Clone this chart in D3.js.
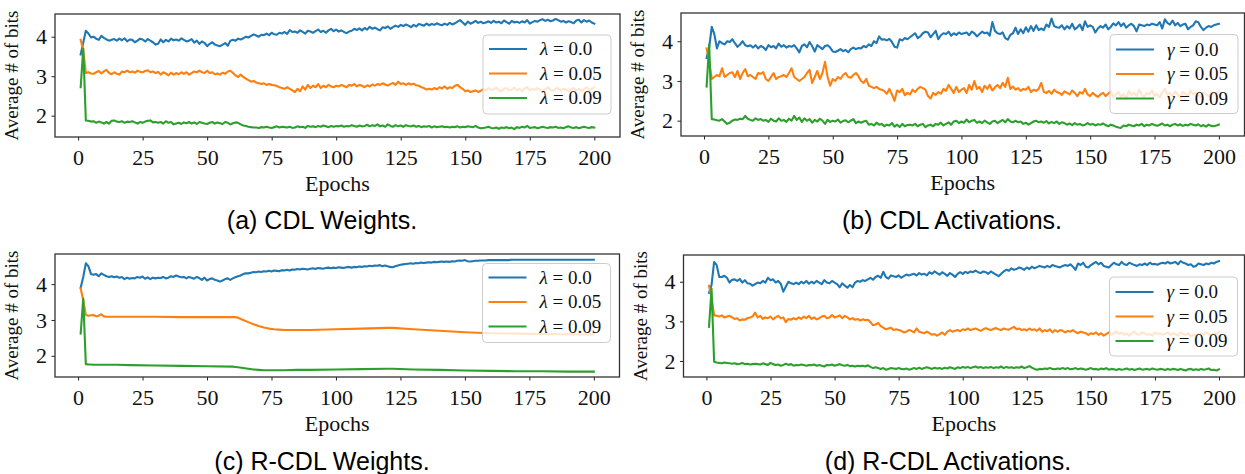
<!DOCTYPE html>
<html>
<head>
<meta charset="utf-8">
<script src="https://cdn.jsdelivr.net/npm/d3@7"></script>
<style>
  body { margin: 0; background: #fff; }
</style>
</head>
<body>
<div id="chart"></div>
<script>
// epochs 1..200 (x axis for every dense series)
const epochs = d3.range(1, 201);

// (a) CDL Weights
const cdlW_l00 = [
  3.55,3.85,4.15,4.08,3.98,4.0,3.95,3.92,4.02,3.97,
  3.93,3.9,3.92,3.94,3.9,3.95,3.91,3.96,3.88,3.93,
  3.92,3.86,3.9,3.95,3.93,3.88,3.94,3.9,3.86,3.8,
  3.82,3.93,3.86,3.92,3.88,3.95,3.91,3.93,3.9,3.96,
  3.92,3.88,3.9,3.94,3.85,3.9,3.82,3.88,3.84,3.76,
  3.82,3.86,3.8,3.78,3.76,3.8,3.84,3.77,3.9,3.92,
  3.9,3.95,3.93,3.96,4.0,3.98,4.02,4.06,4.03,4.0,
  4.05,4.04,4.08,4.04,4.1,4.06,4.05,4.1,4.08,4.12,
  4.07,4.17,4.12,4.13,4.1,4.16,4.12,4.08,4.15,4.13,
  4.1,4.14,4.18,4.12,4.15,4.1,4.16,4.2,4.14,4.18,
  4.13,4.16,4.12,4.09,4.13,4.15,4.2,4.17,4.21,4.16,
  4.22,4.18,4.25,4.2,4.23,4.19,4.16,4.24,4.22,4.26,
  4.2,4.24,4.28,4.25,4.3,4.27,4.31,4.28,4.24,4.3,
  4.26,4.32,4.3,4.28,4.33,4.29,4.32,4.3,4.34,4.31,
  4.29,4.33,4.3,4.35,4.31,4.34,4.38,4.42,4.36,4.3,
  4.38,4.33,4.36,4.4,4.35,4.38,4.34,4.36,4.39,4.35,
  4.4,4.36,4.38,4.34,4.41,4.37,4.33,4.4,4.36,4.38,
  4.35,4.39,4.36,4.42,4.33,4.37,4.4,4.38,4.42,4.44,
  4.4,4.43,4.39,4.41,4.45,4.42,4.38,4.4,4.36,4.39,
  4.37,4.34,4.41,4.43,4.36,4.42,4.38,4.41,4.36,4.33
];
const cdlW_l005 = [
  3.92,3.65,3.08,3.1,3.07,3.06,3.1,3.13,3.07,3.12,
  3.16,3.08,3.05,3.1,3.06,3.04,3.12,3.1,3.14,3.1,
  3.12,3.09,3.14,3.11,3.1,3.13,3.15,3.1,3.12,3.08,
  3.11,3.04,3.1,3.07,3.02,3.09,3.04,3.08,3.05,3.1,
  3.06,3.1,3.04,3.08,3.12,3.1,3.14,3.1,3.08,3.14,
  3.08,3.1,3.05,3.07,3.04,3.09,3.06,3.12,3.14,3.08,
  3.02,2.98,3.04,2.98,2.94,2.9,2.86,2.88,2.84,2.82,
  2.8,2.82,2.78,2.8,2.78,2.77,2.75,2.72,2.7,2.68,
  2.72,2.68,2.64,2.6,2.68,2.62,2.74,2.66,2.78,2.7,
  2.76,2.72,2.8,2.7,2.76,2.72,2.78,2.74,2.72,2.76,
  2.74,2.78,2.75,2.72,2.78,2.76,2.8,2.74,2.78,2.76,
  2.72,2.77,2.74,2.79,2.76,2.8,2.78,2.82,2.79,2.76,
  2.8,2.83,2.78,2.86,2.8,2.82,2.78,2.82,2.79,2.81,
  2.77,2.76,2.72,2.7,2.66,2.68,2.66,2.7,2.67,2.72,
  2.69,2.74,2.68,2.72,2.7,2.76,2.78,2.72,2.68,2.62,
  2.64,2.6,2.62,2.64,2.6,2.63,2.67,2.64,2.7,2.65,
  2.67,2.71,2.65,2.62,2.68,2.7,2.64,2.66,2.71,2.64,
  2.68,2.62,2.69,2.72,2.64,2.68,2.65,2.7,2.66,2.62,
  2.67,2.72,2.65,2.63,2.68,2.7,2.64,2.68,2.66,2.62,
  2.66,2.7,2.64,2.68,2.62,2.67,2.72,2.65,2.68,2.72
];
const cdlW_l009 = [
  2.72,3.7,1.88,1.87,1.85,1.86,1.82,1.85,1.83,1.8,
  1.84,1.8,1.87,1.88,1.85,1.84,1.86,1.82,1.85,1.84,
  1.86,1.83,1.8,1.84,1.82,1.85,1.87,1.88,1.83,1.84,
  1.82,1.84,1.8,1.86,1.82,1.84,1.78,1.8,1.82,1.79,
  1.83,1.81,1.84,1.8,1.83,1.79,1.84,1.82,1.8,1.79,
  1.82,1.84,1.8,1.83,1.81,1.79,1.84,1.82,1.78,1.81,
  1.83,1.82,1.78,1.75,1.74,1.72,1.71,1.7,1.7,1.69,
  1.71,1.7,1.72,1.7,1.69,1.71,1.73,1.7,1.72,1.71,
  1.7,1.72,1.69,1.7,1.73,1.71,1.72,1.69,1.74,1.72,
  1.73,1.71,1.74,1.72,1.75,1.73,1.71,1.74,1.72,1.74,
  1.73,1.75,1.72,1.74,1.73,1.76,1.74,1.72,1.75,1.73,
  1.74,1.77,1.73,1.76,1.74,1.78,1.73,1.75,1.72,1.78,
  1.74,1.72,1.76,1.73,1.75,1.72,1.76,1.74,1.73,1.75,
  1.72,1.74,1.71,1.73,1.72,1.74,1.7,1.73,1.71,1.72,
  1.73,1.71,1.72,1.7,1.72,1.71,1.73,1.7,1.72,1.71,
  1.73,1.72,1.71,1.74,1.7,1.68,1.69,1.7,1.72,1.69,
  1.68,1.7,1.67,1.7,1.69,1.71,1.68,1.7,1.66,1.71,
  1.69,1.72,1.7,1.74,1.69,1.7,1.71,1.68,1.7,1.72,
  1.7,1.69,1.71,1.7,1.72,1.69,1.7,1.68,1.71,1.73,
  1.7,1.69,1.71,1.68,1.7,1.72,1.7,1.69,1.71,1.7
];

// (b) CDL Activations
const cdlA_g00 = [
  3.58,3.85,4.36,4.18,3.82,4.0,3.95,3.92,4.0,3.98,
  4.05,3.95,3.86,3.92,4.0,3.9,3.87,3.9,3.84,3.9,
  3.82,3.88,3.85,3.78,3.9,3.85,3.88,3.82,3.94,3.86,
  3.9,3.84,3.88,3.86,3.9,3.82,3.72,3.88,3.92,3.85,
  3.98,3.88,3.74,3.9,3.85,3.8,3.88,3.9,3.84,3.74,
  3.73,3.76,3.8,3.75,3.78,3.72,3.8,3.84,3.8,3.83,
  3.82,3.88,3.85,3.92,3.88,4.0,3.95,4.12,4.04,4.05,
  4.02,4.06,3.98,3.86,3.84,4.05,4.02,4.08,4.05,4.1,
  4.15,4.2,4.08,4.12,4.2,4.24,4.22,4.1,4.18,4.26,
  4.05,4.15,4.2,4.18,4.24,4.14,4.2,4.16,4.22,4.18,
  4.2,4.22,4.15,4.24,4.2,4.12,4.18,4.24,4.2,4.22,
  4.14,4.48,4.26,4.2,4.18,4.22,4.08,4.04,4.16,4.2,
  4.34,4.18,4.3,4.2,4.35,4.24,4.38,4.26,4.4,4.28,
  4.32,4.28,4.42,4.36,4.57,4.38,4.35,4.34,4.4,4.3,
  4.38,4.32,4.44,4.3,4.35,4.42,4.28,4.5,4.36,4.4,
  4.36,4.22,4.32,4.38,4.34,4.42,4.3,4.36,4.45,4.4,
  4.48,4.38,4.45,4.34,4.4,4.44,4.38,4.25,4.42,4.4,
  4.38,4.42,4.4,4.44,4.42,4.4,4.48,4.32,4.55,4.46,
  4.42,4.52,4.4,4.46,4.38,4.42,4.44,4.3,4.36,4.4,
  4.5,4.48,4.36,4.28,4.34,4.38,4.36,4.4,4.42,4.44
];
const cdlA_g005 = [
  3.82,3.5,3.05,3.1,3.15,3.12,3.32,3.1,3.15,3.2,
  3.22,3.1,3.25,3.05,3.2,3.3,3.12,3.15,3.1,3.05,
  3.2,3.18,3.22,3.05,3.0,3.1,3.2,3.05,3.1,3.12,
  3.15,3.1,3.2,3.32,3.1,3.05,3.0,3.05,3.1,3.2,
  3.28,2.95,3.1,3.25,3.05,3.2,3.48,3.1,2.88,3.05,
  3.0,3.1,3.05,3.15,3.2,3.1,3.08,3.15,3.2,3.12,
  3.0,2.95,3.05,2.88,2.85,2.82,2.85,2.8,2.78,2.75,
  2.68,2.8,2.66,2.5,2.76,2.72,2.8,2.64,2.7,2.66,
  2.78,2.72,2.8,2.85,2.82,2.78,2.62,2.56,2.7,2.65,
  2.72,2.68,2.8,2.75,2.9,2.8,2.7,2.85,2.72,2.78,
  2.82,2.7,2.9,2.78,3.0,2.8,2.85,2.72,2.88,2.8,
  2.9,2.76,2.84,2.9,2.82,2.95,2.85,3.08,2.8,2.86,
  2.78,2.82,2.75,2.8,2.78,2.85,2.72,2.78,2.75,2.8,
  2.95,2.72,2.7,2.75,2.68,2.78,2.72,2.7,2.65,2.74,
  2.7,2.66,2.76,2.7,2.62,2.72,2.68,2.8,2.66,2.62,
  2.7,2.64,2.6,2.66,2.7,2.62,2.68,2.74,2.6,2.66,
  2.72,2.6,2.68,2.55,2.75,2.64,2.7,2.62,2.78,2.66,
  2.6,2.7,2.66,2.76,2.62,2.68,2.58,2.72,2.8,2.65,
  2.7,2.62,2.74,2.66,2.58,2.72,2.68,2.62,2.76,2.66,
  2.7,2.64,2.6,2.72,2.66,2.62,2.7,2.66,2.68,2.74
];
const cdlA_g009 = [
  2.86,3.92,2.04,2.03,2.01,2.0,2.04,1.98,1.92,1.95,
  2.0,2.03,2.02,2.05,2.04,2.12,2.05,2.02,2.0,2.06,
  2.02,2.04,2.0,2.02,1.97,2.05,2.0,1.98,2.06,2.0,
  2.02,1.97,2.05,2.0,2.12,2.02,2.08,1.97,2.06,2.0,
  2.04,1.95,2.02,1.98,2.05,2.0,1.92,2.02,1.97,2.0,
  1.98,2.03,1.95,1.99,2.01,1.96,2.0,2.04,1.94,1.98,
  1.95,1.98,2.0,1.9,1.92,1.88,1.95,1.9,1.92,1.86,
  1.9,1.88,1.94,1.85,1.9,1.84,1.92,1.86,1.89,1.9,
  1.88,1.92,1.86,1.9,1.92,1.84,1.88,1.9,1.86,1.92,
  1.9,1.95,1.88,1.92,1.96,1.9,1.98,2.0,1.94,1.98,
  1.95,2.03,1.96,2.0,2.02,1.95,1.98,1.94,2.0,1.96,
  1.92,1.98,2.0,1.94,1.98,2.02,1.96,2.04,1.98,1.96,
  2.0,1.96,1.98,1.92,1.95,1.9,1.94,1.98,2.0,1.96,
  1.98,1.95,1.99,1.93,1.97,1.94,1.98,1.92,1.96,1.94,
  1.9,1.93,1.89,1.94,1.9,1.92,1.88,1.9,1.94,1.9,
  1.92,1.88,1.91,1.9,1.93,1.89,1.86,1.9,1.88,1.85,
  1.83,1.82,1.88,1.86,1.9,1.88,1.86,1.9,1.88,1.92,
  1.86,1.9,1.88,1.92,1.89,1.87,1.9,1.93,1.88,1.9,
  1.86,1.9,1.92,1.88,1.91,1.87,1.9,1.88,1.92,1.9,
  1.88,1.91,1.86,1.89,1.85,1.9,1.87,1.86,1.88,1.9
];

// (c) R-CDL Weights
const rcdlW_l00 = [
  3.9,4.2,4.58,4.5,4.28,4.26,4.28,4.22,4.3,4.26,
  4.22,4.2,4.22,4.19,4.21,4.18,4.2,4.14,4.18,4.15,
  4.17,4.16,4.2,4.18,4.21,4.15,4.19,4.14,4.18,4.16,
  4.18,4.17,4.2,4.16,4.18,4.22,4.2,4.24,4.21,4.19,
  4.2,4.16,4.2,4.18,4.15,4.2,4.17,4.12,4.18,4.1,
  4.14,4.16,4.12,4.1,4.07,4.1,4.14,4.16,4.12,4.16,
  4.19,4.22,4.24,4.28,4.3,4.3,4.32,4.34,4.33,4.35,
  4.34,4.36,4.35,4.37,4.35,4.38,4.37,4.36,4.39,4.38,
  4.4,4.38,4.41,4.4,4.42,4.41,4.43,4.42,4.41,4.43,
  4.44,4.42,4.45,4.44,4.43,4.45,4.46,4.44,4.46,4.45,
  4.47,4.46,4.45,4.47,4.48,4.46,4.48,4.47,4.49,4.48,
  4.5,4.49,4.51,4.5,4.52,4.51,4.53,4.5,4.52,4.5,
  4.48,4.47,4.5,4.52,4.54,4.55,4.56,4.57,4.58,4.57,
  4.59,4.58,4.6,4.59,4.6,4.61,4.6,4.62,4.61,4.62,
  4.63,4.62,4.63,4.62,4.64,4.63,4.65,4.66,4.65,4.67,
  4.64,4.63,4.64,4.65,4.65,4.66,4.66,4.66,4.67,4.67,
  4.67,4.67,4.67,4.67,4.67,4.67,4.67,4.68,4.68,4.68,
  4.68,4.68,4.68,4.68,4.68,4.68,4.68,4.68,4.68,4.68,
  4.68,4.68,4.68,4.68,4.68,4.68,4.68,4.68,4.68,4.68,
  4.68,4.68,4.68,4.68,4.68,4.68,4.68,4.68,4.68,4.68
];
// smooth R-CDL weight curves, read at these epochs
const rcdlW_epochs = [1,2,3,4,5,6,7,8,9,10,11,15,20,30,40,50,60,61,62,64,66,68,70,72,74,76,78,80,85,90,100,110,120,122,130,140,150,160,170,180,190,200];
const rcdlW_l005 = [3.88,3.55,3.14,3.12,3.13,3.14,3.1,3.12,3.16,3.1,3.09,3.09,3.09,3.09,3.08,3.08,3.08,3.08,3.06,3.0,2.94,2.88,2.83,2.79,2.76,2.74,2.73,2.72,2.72,2.72,2.74,2.76,2.78,2.78,2.74,2.7,2.66,2.63,2.62,2.61,2.6,2.6];
const rcdlW_l009 = [2.62,3.6,1.77,1.76,1.76,1.75,1.75,1.75,1.75,1.75,1.75,1.75,1.74,1.73,1.72,1.71,1.7,1.69,1.68,1.66,1.64,1.62,1.61,1.6,1.6,1.6,1.6,1.6,1.61,1.61,1.62,1.63,1.64,1.64,1.62,1.61,1.59,1.58,1.57,1.57,1.56,1.56];

// (d) R-CDL Activations
const rcdlA_g00 = [
  3.72,3.92,4.5,4.42,4.12,4.12,4.15,4.1,3.98,4.05,
  4.06,4.02,4.07,3.98,4.04,3.96,3.95,3.9,3.94,3.98,
  3.96,4.02,3.98,4.1,4.04,4.06,3.98,4.02,3.95,3.75,
  3.88,4.0,3.96,3.94,3.98,3.94,4.0,3.96,4.02,3.95,
  4.0,3.96,4.02,3.98,3.94,4.04,3.98,3.96,4.02,3.98,
  3.94,3.86,3.96,3.9,3.85,3.92,3.86,3.98,4.02,4.0,
  4.04,4.02,4.06,4.1,4.05,4.12,4.15,4.1,4.25,4.12,
  4.08,4.16,4.14,4.12,4.16,4.1,4.14,4.18,4.16,4.18,
  4.2,4.16,4.22,4.18,4.2,4.16,4.24,4.2,4.26,4.22,
  4.18,4.24,4.2,4.15,4.22,4.18,4.12,4.2,4.24,4.2,
  4.25,4.22,4.26,4.24,4.28,4.24,4.22,4.26,4.24,4.2,
  4.26,4.22,4.18,4.14,4.2,4.26,4.3,4.28,4.34,4.3,
  4.32,4.36,4.34,4.3,4.36,4.32,4.38,4.34,4.37,4.4,
  4.38,4.36,4.4,4.37,4.42,4.4,4.38,4.36,4.4,4.42,
  4.4,4.44,4.38,4.3,4.46,4.42,4.48,4.38,4.36,4.42,
  4.46,4.5,4.44,4.48,4.4,4.38,4.36,4.42,4.48,4.44,
  4.42,4.5,4.44,4.42,4.48,4.45,4.42,4.4,4.44,4.42,
  4.46,4.42,4.48,4.44,4.45,4.43,4.46,4.48,4.46,4.5,
  4.46,4.48,4.5,4.44,4.52,4.48,4.46,4.42,4.44,4.38,
  4.4,4.46,4.44,4.42,4.46,4.44,4.48,4.46,4.5,4.52
];
const rcdlA_g005 = [
  3.9,3.6,3.15,3.14,3.12,3.15,3.1,3.12,3.14,3.1,
  3.06,3.08,3.02,3.05,3.04,3.08,3.1,3.12,3.22,3.1,
  3.14,3.06,3.1,3.08,3.12,3.05,3.1,3.14,3.08,3.1,
  2.98,3.06,3.04,3.08,3.05,3.1,3.06,3.12,3.08,3.14,
  3.06,3.1,3.05,3.08,3.12,3.14,3.08,3.1,3.16,3.1,
  3.12,3.15,3.08,3.14,3.1,3.05,3.08,3.04,3.06,3.02,
  3.05,3.03,3.04,2.98,2.9,2.92,2.96,2.88,2.84,2.8,
  2.82,2.84,2.78,2.8,2.78,2.76,2.72,2.74,2.78,2.76,
  2.72,2.82,2.74,2.72,2.7,2.74,2.7,2.66,2.68,2.64,
  2.68,2.72,2.66,2.74,2.78,2.74,2.76,2.78,2.75,2.8,
  2.78,2.82,2.78,2.8,2.82,2.79,2.76,2.8,2.83,2.8,
  2.78,2.81,2.83,2.8,2.78,2.82,2.8,2.79,2.83,2.86,
  2.8,2.82,2.78,2.8,2.77,2.82,2.78,2.8,2.76,2.82,
  2.74,2.78,2.75,2.8,2.72,2.78,2.74,2.78,2.76,2.72,
  2.76,2.74,2.78,2.73,2.7,2.74,2.72,2.7,2.66,2.7,
  2.68,2.72,2.66,2.7,2.64,2.68,2.72,2.66,2.7,2.74,
  2.68,2.72,2.66,2.7,2.64,2.7,2.74,2.68,2.66,2.72,
  2.7,2.66,2.68,2.64,2.72,2.68,2.7,2.66,2.68,2.72,
  2.66,2.7,2.68,2.64,2.72,2.68,2.66,2.7,2.62,2.66,
  2.64,2.68,2.7,2.66,2.72,2.68,2.65,2.7,2.68,2.72
];
const rcdlA_g009 = [
  2.86,3.82,1.98,1.96,1.95,1.94,1.96,1.95,1.94,1.93,
  1.94,1.92,1.93,1.95,1.92,1.93,1.91,1.92,1.93,1.92,
  1.91,1.94,1.92,1.9,1.95,1.92,1.9,1.91,1.88,1.9,
  1.93,1.9,1.92,1.88,1.9,1.89,1.91,1.9,1.88,1.9,
  1.89,1.91,1.88,1.9,1.88,1.86,1.9,1.89,1.91,1.88,
  1.9,1.92,1.89,1.88,1.9,1.87,1.88,1.86,1.88,1.87,
  1.88,1.86,1.89,1.85,1.82,1.84,1.82,1.8,1.82,1.78,
  1.8,1.82,1.81,1.8,1.82,1.8,1.79,1.81,1.78,1.8,
  1.82,1.8,1.83,1.8,1.82,1.84,1.82,1.8,1.83,1.81,
  1.82,1.8,1.83,1.81,1.84,1.82,1.8,1.84,1.82,1.85,
  1.83,1.85,1.82,1.84,1.86,1.83,1.85,1.82,1.84,1.83,
  1.85,1.82,1.84,1.83,1.86,1.82,1.85,1.83,1.84,1.82,
  1.84,1.83,1.86,1.82,1.84,1.87,1.83,1.8,1.78,1.8,
  1.79,1.81,1.8,1.82,1.8,1.79,1.81,1.8,1.82,1.8,
  1.82,1.79,1.8,1.82,1.79,1.81,1.8,1.78,1.8,1.82,
  1.79,1.8,1.78,1.81,1.79,1.82,1.78,1.8,1.79,1.77,
  1.8,1.78,1.79,1.81,1.78,1.8,1.77,1.79,1.81,1.78,
  1.79,1.8,1.78,1.81,1.79,1.78,1.8,1.79,1.77,1.8,
  1.78,1.8,1.79,1.77,1.8,1.78,1.76,1.79,1.8,1.77,
  1.79,1.77,1.8,1.78,1.79,1.81,1.77,1.78,1.76,1.79
];

const legendValues = ["0.0", "0.05", "0.09"];
const xTicks = [0, 25, 50, 75, 100, 125, 150, 175, 200];
const yTicks = [2, 3, 4];
const captions = ["(a) CDL Weights.", "(b) CDL Activations.", "(c) R-CDL Weights.", "(d) R-CDL Activations."];

const colors = ["#1f77b4", "#ff7f0e", "#2ca02c"];
const serif = "'Liberation Serif', 'DejaVu Serif', serif";
const sans = "'Liberation Sans', Arial, Helvetica, sans-serif";

// layout of each subplot (pixel box + y range + legend spot)
const panels = [
  { box: [55, 14, 620, 137], yDom: [1.46, 4.575], sym: "λ", leg: [483, 35, 13],
    series: [[epochs, cdlW_l00], [epochs, cdlW_l005], [epochs, cdlW_l009]], cap: [322, 229] },
  { box: [681, 13, 1244.5, 136], yDom: [1.615, 4.71], sym: "γ", leg: [1110, 34.5, 14],
    series: [[epochs, cdlA_g00], [epochs, cdlA_g005], [epochs, cdlA_g009]], cap: [952, 229] },
  { box: [55, 254, 619.5, 377], yDom: [1.41, 4.84], sym: "λ", leg: [482.5, 263.5, 13],
    series: [[epochs, rcdlW_l00], [rcdlW_epochs, rcdlW_l005], [rcdlW_epochs, rcdlW_l009]], cap: [322, 470] },
  { box: [683.5, 255, 1244.5, 377], yDom: [1.595, 4.675], sym: "γ", leg: [1109.5, 277, 14],
    series: [[epochs, rcdlA_g00], [epochs, rcdlA_g005], [epochs, rcdlA_g009]], cap: [948, 470] }
];

const svg = d3.select("#chart").append("svg")
  .attr("width", 1245)
  .attr("height", 474);

panels.forEach((p, i) => {
  const [x0, y0, x1, y1] = p.box;
  const x = d3.scaleLinear().domain([-8.95, 209.95]).range([x0, x1]);
  const y = d3.scaleLinear().domain(p.yDom).range([y1, y0]);
  const g = svg.append("g");

  // lines
  const line = d3.line().x(d => x(d[0])).y(d => y(d[1]));
  p.series.forEach((s, k) => {
    const pts = s[0].map((e, j) => [e, s[1][j]]);
    g.append("path")
      .datum(pts)
      .attr("d", line)
      .attr("fill", "none")
      .attr("stroke", colors[k])
      .attr("stroke-width", 2.1)
      .attr("stroke-linejoin", "round")
      .attr("stroke-linecap", "square");
  });

  // axes
  const xa = g.append("g")
    .attr("transform", `translate(0,${y1})`)
    .call(d3.axisBottom(x).tickValues(xTicks).tickSize(3.5).tickPadding(8.5));
  const ya = g.append("g")
    .attr("transform", `translate(${x0},0)`)
    .call(d3.axisLeft(y).tickValues(yTicks).tickFormat(d3.format("d")).tickSize(3.5).tickPadding(4.5));
  [xa, ya].forEach(a => {
    a.select(".domain").remove();
    a.selectAll("line").attr("stroke", "#222").attr("stroke-width", 1);
    a.selectAll("text").attr("font-family", serif).attr("font-size", 22).attr("fill", "#111");
  });

  // frame
  g.append("rect")
    .attr("x", x0).attr("y", y0)
    .attr("width", x1 - x0).attr("height", y1 - y0)
    .attr("fill", "none")
    .attr("stroke", "#333")
    .attr("stroke-width", 1.3);

  // axis labels
  g.append("text")
    .attr("x", (x0 + x1) / 2).attr("y", y1 + 54)
    .attr("text-anchor", "middle")
    .attr("font-family", serif).attr("font-size", 22).attr("fill", "#111")
    .text("Epochs");
  g.append("text")
    .attr("transform", `translate(${x0 - 37},${(y0 + y1) / 2}) rotate(-90)`)
    .attr("text-anchor", "middle")
    .attr("font-family", serif).attr("font-size", 19).attr("fill", "#111")
    .text("Average # of bits");

  // legend
  const [lx, ly] = p.leg;
  const lg = g.append("g").attr("transform", `translate(${lx},${ly})`);
  lg.append("rect")
    .attr("width", 128).attr("height", 79)
    .attr("rx", 4)
    .attr("fill", "#fff").attr("fill-opacity", 0.8)
    .attr("stroke", "#ccc").attr("stroke-width", 1);
  legendValues.forEach((v, k) => {
    const ry = p.leg[2] + 1 + k * 24.5;
    lg.append("line")
      .attr("x1", 6).attr("x2", 44)
      .attr("y1", ry).attr("y2", ry)
      .attr("stroke", colors[k]).attr("stroke-width", 2.1);
    const t = lg.append("text")
      .attr("x", 57).attr("y", ry + 6)
      .attr("font-family", serif).attr("font-size", 19).attr("fill", "#111");
    t.append("tspan").attr("font-style", "italic").text(p.sym);
    t.append("tspan").text(" = " + v);
  });

  // caption
  svg.append("text")
    .attr("x", p.cap[0]).attr("y", p.cap[1])
    .attr("text-anchor", "middle")
    .attr("font-family", sans).attr("font-size", 25).attr("fill", "#000")
    .text(captions[i]);
});
</script>
</body>
</html>
